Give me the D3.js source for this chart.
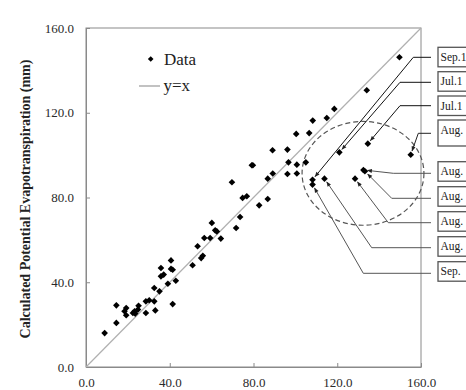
<!DOCTYPE html>
<html><head><meta charset="utf-8">
<script src="https://cdn.jsdelivr.net/npm/d3@7"></script>
<style>body{margin:0;background:#fff;} svg{display:block;}</style>
</head><body>
<svg id="c" width="466" height="390"></svg>
<script>
// ---- data ----
const obsX = [8.9,14.5,14.5,19.2,18.4,19.2,22.4,23.2,24.8,25.1,23.5,28.6,28.6,30.2,32.6,33.1,32.6,35.1,35.8,35.8,37.1,39.1,40.6,40.6,41.4,41.4,42.9,50.9,53.3,55.0,55.8,56.5,59.3,60.1,61.7,62.5,64.4,69.7,71.7,73.6,74.8,76.8,79.2,79.7,82.7,86.8,86.8,89.1,89.2,96.2,96.7,96.2,100.4,100.7,100.7,105.0,106.6,108.3,115.0,118.6,134.1,149.7,108.2,108.2,113.9,121.0,128.5,132.5,133.2,134.6,155.1];
const calcY = [16.0,29.1,20.8,27.8,26.3,24.4,25.5,26.3,27.1,28.9,25.2,25.5,31.0,31.5,31.0,26.7,37.3,35.7,42.8,46.7,43.6,39.3,50.3,46.3,45.9,29.7,40.7,48.0,57.0,51.4,52.5,60.9,60.9,68.0,64.5,64.0,60.6,87.2,65.6,70.8,79.8,80.6,95.2,95.2,76.3,79.3,88.9,102.3,91.3,102.6,96.6,91.1,110.0,95.5,91.3,96.6,110.4,116.3,117.5,121.8,130.6,146.2,88.4,86.1,88.9,101.3,88.9,93.0,92.4,105.4,100.2];
const xTicks = [0,40,80,120,160];
const yTicks = [0,40,80,120,160];
const annotLabels = ["Sep.1","Jul.1","Jul.1","Aug.","Aug.","Aug.","Aug.","Aug.","Sep."];
const annotX = [108.2,121.0,134.6,155.1,132.5,133.2,128.5,113.9,108.2];
const annotY = [88.4,101.3,105.4,100.2,93.0,92.4,88.9,88.9,86.1];
const ellipseCenter = [132.3, 91.4];
const ellipseRadii = [29.1, 24.5];
const yTitle = "Calculated Potential Evapotranspiration (mm)";

// ---- layout ----
const svg = d3.select("#c");
svg.append("rect").attr("width",466).attr("height",390).attr("fill","#fff");
const x = d3.scaleLinear().domain([0,160]).range([86,421]);
const y = d3.scaleLinear().domain([0,160]).range([367,28]);
const FONT = "'Liberation Serif','Times New Roman',serif";

svg.append("defs").append("marker").attr("id","arr").attr("viewBox","0 0 10 10")
  .attr("refX",9).attr("refY",5).attr("markerWidth",6).attr("markerHeight",5)
  .attr("markerUnits","userSpaceOnUse").attr("orient","auto")
  .append("path").attr("d","M0,1L10,5L0,9z").attr("fill","#222");

// frame
svg.append("rect").attr("x",x(0)).attr("y",y(160)).attr("width",x(160)-x(0)).attr("height",y(0)-y(160))
  .attr("fill","none").attr("stroke","#8a8a8a").attr("stroke-width",1);

const fmt = d3.format(".1f");
const gx = svg.append("g").attr("transform",`translate(0,${y(0)})`)
  .call(d3.axisBottom(x).tickValues(xTicks).tickFormat(fmt).tickSizeInner(-4).tickSizeOuter(0).tickPadding(11));
const gy = svg.append("g").attr("transform",`translate(${x(0)},0)`)
  .call(d3.axisLeft(y).tickValues(yTicks).tickFormat(fmt).tickSizeInner(-4).tickSizeOuter(0).tickPadding(12));
[gx,gy].forEach(g=>{
  g.select(".domain").attr("stroke","#8a8a8a");
  g.selectAll(".tick line").attr("stroke","#8a8a8a");
  g.selectAll(".tick text").attr("font-family",FONT).attr("font-size",13).attr("fill","#2a2a2a");
});

// y=x line
svg.append("line").attr("x1",x(0)).attr("y1",y(0)).attr("x2",x(160)).attr("y2",y(160))
  .attr("stroke","#b0b0b0").attr("stroke-width",1.2);

// y title
svg.append("text").attr("transform",`translate(30,199) rotate(-90)`)
  .attr("text-anchor","middle").attr("font-family",FONT).attr("font-weight","bold")
  .attr("font-size",14).attr("fill","#222").text(yTitle);

// dashed ellipse
svg.append("ellipse").attr("cx",x(ellipseCenter[0])).attr("cy",y(ellipseCenter[1]))
  .attr("rx",x(ellipseRadii[0])-x(0)).attr("ry",y(0)-y(ellipseRadii[1]))
  .attr("fill","none").attr("stroke","#555").attr("stroke-width",1.2).attr("stroke-dasharray","5,3");

// points
const diamond = d3.symbol().type(d3.symbolSquare).size(22);
svg.append("g").selectAll("path").data(obsX.map((d,i)=>[d,calcY[i]])).join("path")
  .attr("d",diamond).attr("transform",d=>`translate(${x(d[0])},${y(d[1])}) rotate(45)`)
  .attr("fill","#000");

// legend
svg.append("path").attr("d",d3.symbol().type(d3.symbolSquare).size(16)())
  .attr("transform","translate(150.7,59) rotate(45)").attr("fill","#000");
svg.append("text").attr("x",164).attr("y",65).attr("font-family",FONT).attr("font-size",17).attr("fill","#222").text("Data");
svg.append("line").attr("x1",139).attr("x2",160).attr("y1",86).attr("y2",86).attr("stroke","#999").attr("stroke-width",1.2);
svg.append("text").attr("x",163.5).attr("y",91).attr("font-family",FONT).attr("font-size",17).attr("fill","#222").text("y=x");

// annotations (layout positions)
const boxTop = [47.3,71.7,96,120,161.7,186.7,211.7,236.7,261.7];
const boxH = [19.5,19.5,19.5,26,19.5,19.5,19.5,19.5,19.5];
const lineY = [57.3,82.3,105.7,133.3,173.3,198.3,222.7,247.7,273.3];
const elbowX = [413.3,400,400,418.3,393.3,391.7,388.3,371.7,363.3];
const lineCol = ["#111","#111","#111","#222","#555","#555","#555","#555","#555"];
const g = svg.append("g");
annotLabels.forEach((lab,i)=>{
  g.append("rect").attr("x",438).attr("y",boxTop[i]).attr("width",60).attr("height",boxH[i])
    .attr("fill","#fff").attr("stroke","#555").attr("stroke-width",1.3);
  g.append("text").attr("x",440.5).attr("y",boxTop[i]+13.5).attr("font-family",FONT)
    .attr("font-size",11.5).attr("fill","#222").text(lab);
  const px = x(annotX[i]), py = y(annotY[i]);
  const dx = elbowX[i]-px, dy = lineY[i]-py, L = Math.hypot(dx,dy);
  const ex = px + dx/L*4, ey = py + dy/L*4;
  g.append("path").attr("d",`M431,${lineY[i]}L${elbowX[i]},${lineY[i]}L${ex},${ey}`)
    .attr("fill","none").attr("stroke",lineCol[i]).attr("stroke-width",1).attr("marker-end","url(#arr)");
});
</script>
</body></html>
